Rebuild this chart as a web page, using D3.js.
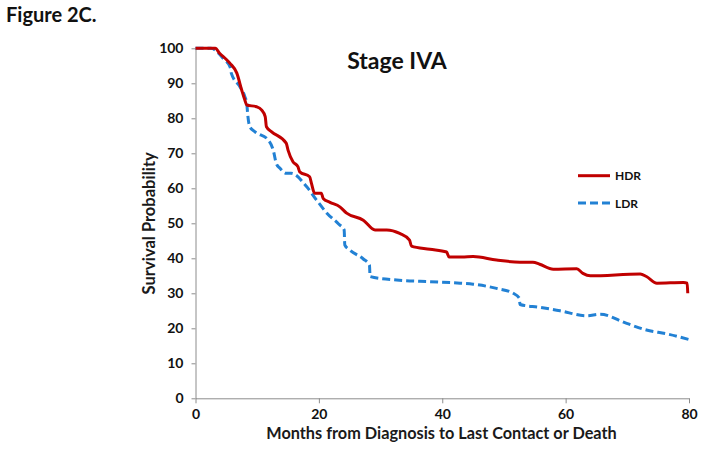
<!DOCTYPE html>
<html><head><meta charset="utf-8">
<script src="https://cdn.jsdelivr.net/npm/d3@7"></script>
<style>body{margin:0;background:#fff;} svg{display:block;font-family:Lato,"Open Sans",sans-serif;}</style>
</head><body>
<svg id="c" width="701" height="457"></svg>
<script>
const hdrMonths = [0,3.2,3.9,5.0,5.6,6.7,7.5,8.0,8.3,9.9,10.7,11.3,11.5,12.3,14.7,15.0,15.8,16.6,16.9,18.5,18.8,19.3,20.4,20.7,21.8,23.4,24.5,27.2,29.1,31.0,33.1,34.7,35.0,38.0,40.7,41.1,43.2,45.0,48.8,52.6,54.7,55.8,58.0,61.8,62.8,64.0,72.1,73.1,74.8,79.1,79.7,79.8];
const hdrSurv   = [100,100,98.6,96.8,95.7,92.9,88,85.2,83.8,83.3,82.4,80.5,77.6,76.2,72.9,70.9,67.6,66.2,64.7,63.3,61.4,58.6,58.6,57.1,56.0,54.7,52.9,50.9,48.1,48.1,47.1,45.2,43.5,42.6,41.8,40.4,40.4,40.5,39.5,38.9,38.9,38.3,36.9,37.0,35.7,35.0,35.5,34.8,32.9,33.1,32.9,30.0];
const ldrMonths = [0,2.5,4.5,5.6,5.8,7.2,8.0,8.3,8.5,8.8,9.6,11.8,12.6,13.1,13.7,14.7,15.5,18.0,19.6,21.3,23.2,24.1,24.2,25.0,27.2,28.2,28.3,32.6,38.0,42.9,45.0,48.8,51.5,52.5,52.6,55.8,59.1,63.4,65.6,69.9,73.1,76.4,80.0];
const ldrSurv   = [100,100,97.1,94.7,92.9,89.0,86.2,84.3,80.5,77.6,76.2,73.8,70.9,67.1,65.7,64.3,64.3,60.5,56.7,52.9,49.8,48.1,43.8,42.4,39.8,38.1,34.8,33.8,33.3,32.9,32.6,31.4,30.0,28.6,26.8,26.0,25.0,23.6,24.0,21.4,19.5,18.4,16.8];
const xTicks = [0,20,40,60,80];
const yTicks = [0,10,20,30,40,50,60,70,80,90,100];
const seriesNames = ["HDR","LDR"];

const svg = d3.select("#c");
const L=195.5, R=689, T=48.3, B=398.3;
const x = d3.scaleLinear().domain([0,80]).range([L,R]);
const y = d3.scaleLinear().domain([0,100]).range([B,T]);
const gray="#8c8c8c";

const ya = svg.append("g").attr("transform",`translate(${L},0)`)
  .call(d3.axisLeft(y).tickValues(yTicks).tickSize(4).tickSizeOuter(0).tickPadding(8));
const xa = svg.append("g").attr("transform",`translate(0,${B})`)
  .call(d3.axisBottom(x).tickValues(xTicks).tickSize(5).tickSizeOuter(0).tickPadding(6));
[ya,xa].forEach(g=>{
  g.select(".domain").attr("stroke",gray);
  g.selectAll(".tick line").attr("stroke",gray);
  g.selectAll(".tick text").attr("font-family","Lato,sans-serif").attr("font-weight","bold").attr("font-size","14px").attr("fill","#111");
});

const line = d3.line().x(d=>x(d[0])).y(d=>y(d[1])).curve(d3.curveMonotoneX);
const hdr = hdrMonths.map((m,i)=>[m,hdrSurv[i]]);
const ldr = ldrMonths.map((m,i)=>[m,ldrSurv[i]]);
const red="#c00000", blue="#2281d4";
svg.append("path").datum(ldr).attr("d",line).attr("fill","none").attr("stroke",blue).attr("stroke-width",3).attr("stroke-dasharray","8,4");
svg.append("path").datum(hdr).attr("d",line).attr("fill","none").attr("stroke",red).attr("stroke-width",3);

svg.append("text").attr("x",6).attr("y",22).text("Figure 2C.").attr("font-weight","bold").attr("font-size","20px").attr("fill","#111");
svg.append("text").attr("x",397).attr("y",69).attr("text-anchor","middle").text("Stage IVA").attr("font-weight","bold").attr("font-size","23px").attr("fill","#111");
svg.append("text").attr("x",441.5).attr("y",439).attr("text-anchor","middle").text("Months from Diagnosis to Last Contact or Death").attr("font-weight","bold").attr("font-size","16.3px").attr("fill","#1a1a1a");
svg.append("text").attr("transform",`translate(155,${(T+B)/2}) rotate(-90)`).attr("text-anchor","middle").text("Survival Probability").attr("font-weight","bold").attr("font-size","16.5px").attr("fill","#1a1a1a");

const leg = [{n:seriesNames[0],c:red,d:null,y:175.7},{n:seriesNames[1],c:blue,d:"8,4",y:203}];
leg.forEach(l=>{
  svg.append("line").attr("x1",578).attr("x2",610).attr("y1",l.y).attr("y2",l.y).attr("stroke",l.c).attr("stroke-width",3).attr("stroke-dasharray",l.d);
  svg.append("text").attr("x",615).attr("y",l.y+4.5).text(l.n).attr("font-weight","bold").attr("font-size","12px").attr("fill","#111");
});
</script>
</body></html>
